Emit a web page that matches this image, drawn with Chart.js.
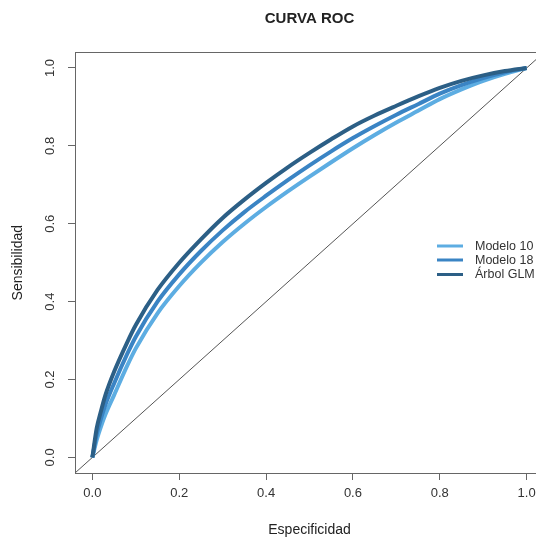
<!DOCTYPE html>
<html>
<head>
<meta charset="utf-8">
<script src="https://cdn.jsdelivr.net/npm/chart.js@4"></script>
<style>
html, body { margin:0; padding:0; overflow:hidden; background:#fff; }
#wrap { width:546px; height:537px; position:relative; }
</style>
</head>
<body>
<div id="wrap"><canvas id="c"></canvas></div>
<script>
// ---- data ----
const titleText = "CURVA ROC";
const xTitle = "Especificidad";
const yTitle = "Sensibilidad";
const seriesNames = ["Modelo 10", "Modelo 18", "Árbol GLM"];
const seriesColors = ["#5DADE2", "#3A84C4", "#2C5F86"];
const tickValues = [0, 0.2, 0.4, 0.6, 0.8, 1.0];
const tickLabels = ["0.0", "0.2", "0.4", "0.6", "0.8", "1.0"];
const fpr = [0,0.01,0.02,0.03,0.05,0.08,0.10,0.15,0.20,0.25,0.30,0.35,0.40,0.45,0.50,0.55,0.60,0.65,0.70,0.75,0.80,0.85,0.90,0.95,1.0];
const modelo10 = [0,0.045,0.08,0.11,0.16,0.235,0.28,0.37,0.44,0.50,0.553,0.60,0.643,0.683,0.721,0.758,0.794,0.828,0.86,0.89,0.92,0.945,0.967,0.985,1.0];
const modelo18 = [0,0.06,0.10,0.135,0.19,0.265,0.31,0.40,0.47,0.53,0.583,0.63,0.672,0.712,0.75,0.786,0.82,0.851,0.88,0.907,0.934,0.956,0.974,0.989,1.0];
const arbolGLM = [0,0.075,0.12,0.16,0.22,0.295,0.34,0.43,0.50,0.56,0.615,0.662,0.705,0.745,0.782,0.817,0.85,0.878,0.903,0.927,0.949,0.967,0.981,0.992,1.0];
const diagonal = [[-0.04,-0.04],[1.04,1.04]];
const axisMin = -0.04, axisMax = 1.04;

const FONT = "'Liberation Sans', Arial, sans-serif";
const toPts = (xs, ys) => xs.map((x, i) => ({x: x, y: ys[i]}));
const seriesData = [modelo10, modelo18, arbolGLM];

const datasets = seriesData.map((ys, i) => ({
  label: seriesNames[i],
  data: toPts(fpr, ys),
  borderColor: seriesColors[i],
  borderWidth: 4,
  pointRadius: 0,
  cubicInterpolationMode: 'monotone',
  fill: false,
  order: 2 - i
}));
datasets.push({
  label: 'diag',
  data: diagonal.map(p => ({x: p[0], y: p[1]})),
  borderColor: '#555',
  borderWidth: 1,
  pointRadius: 0,
  fill: false,
  order: 5
});

const boxPlugin = {
  id: 'box',
  afterDraw(chart) {
    const {ctx, chartArea: a} = chart;
    ctx.save();
    ctx.strokeStyle = '#666';
    ctx.lineWidth = 1;
    ctx.strokeRect(Math.round(a.left) + 0.5, Math.round(a.top) + 0.5, Math.round(a.right - a.left), Math.round(a.bottom - a.top));
    // legend
    const lx0 = 437, lx1 = 463, tx = 475;
    const rows = [246, 260, 274.5];
    ctx.font = "12.5px " + FONT;
    ctx.textBaseline = 'middle';
    ctx.textAlign = 'left';
    seriesNames.forEach((n, i) => {
      ctx.strokeStyle = seriesColors[i];
      ctx.lineWidth = 3;
      ctx.beginPath();
      ctx.moveTo(lx0, rows[i]);
      ctx.lineTo(lx1, rows[i]);
      ctx.stroke();
      ctx.fillStyle = '#333';
      ctx.fillText(n, tx, rows[i] + 0.5);
    });
    ctx.restore();
  }
};

const setTicks = (scale) => { scale.ticks = tickValues.map(v => ({value: v})); };

new Chart(document.getElementById('c'), {
  type: 'line',
  data: { datasets: datasets },
  plugins: [boxPlugin],
  options: {
    responsive: true,
    maintainAspectRatio: false,
    animation: false,
    layout: { padding: { left: 0, right: 2, top: 0, bottom: 0 } },
    plugins: {
      legend: { display: false },
      tooltip: { enabled: false },
      title: {
        display: true,
        text: titleText,
        fullSize: false,
        color: '#222',
        font: { family: FONT, size: 15, weight: 'bold', lineHeight: 1.2 },
        padding: { top: 10, bottom: 24.4 }
      }
    },
    scales: {
      x: {
        type: 'linear',
        min: axisMin, max: axisMax,
        afterBuildTicks: setTicks,
        afterFit: (s) => { s.height = 64; },
        border: { display: false },
        grid: { drawOnChartArea: false, drawTicks: true, tickLength: 7, color: '#666', tickColor: '#666' },
        ticks: {
          autoSkip: false, maxRotation: 0, minRotation: 0, padding: 6,
          color: '#333', font: { family: FONT, size: 13 },
          callback: (v) => { const i = tickValues.indexOf(v); return i >= 0 ? tickLabels[i] : ''; }
        },
        title: { display: true, text: xTitle, color: '#222', font: { family: FONT, size: 14, lineHeight: 1.0 }, padding: { top: 0, bottom: 0 } }
      },
      y: {
        type: 'linear',
        min: axisMin, max: axisMax,
        afterBuildTicks: setTicks,
        afterFit: (s) => { s.width = 75; },
        border: { display: false },
        grid: { drawOnChartArea: false, drawTicks: true, tickLength: 7, color: '#666', tickColor: '#666' },
        ticks: {
          autoSkip: false, minRotation: 90, maxRotation: 90, padding: 9, crossAlign: 'center',
          color: '#333', font: { family: FONT, size: 13 },
          callback: (v) => { const i = tickValues.indexOf(v); return i >= 0 ? tickLabels[i] : ''; }
        },
        title: { display: true, text: yTitle, color: '#222', font: { family: FONT, size: 14, lineHeight: 1.2 }, padding: { top: 10, bottom: 0 } }
      }
    }
  }
});
</script>
</body>
</html>
